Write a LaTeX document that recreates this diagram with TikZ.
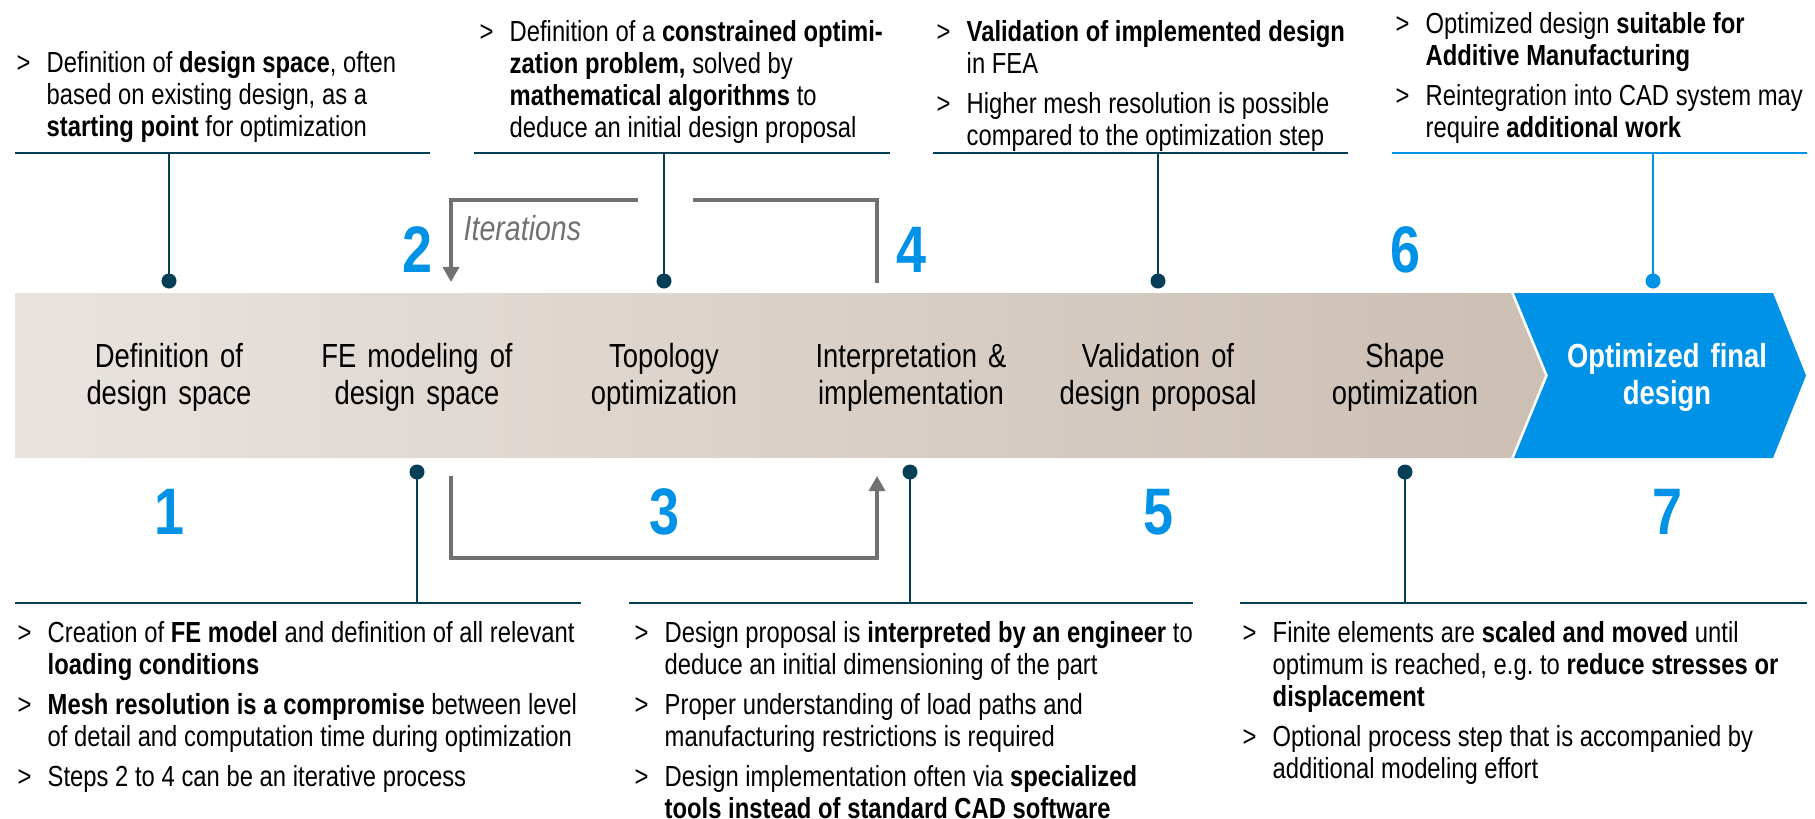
\documentclass[tikz,border=0pt]{standalone}
\usepackage{fontspec}
\setmainfont[FakeStretch=0.82]{Liberation Sans}
\usetikzlibrary{arrows.meta}
\definecolor{stepblue}{RGB}{0,146,230}
\definecolor{stemteal}{RGB}{5,62,87}
\definecolor{loopgray}{RGB}{115,112,112}
\definecolor{bandleft}{RGB}{233,227,223}
\definecolor{bandright}{RGB}{204,191,180}

\newcommand{\notefont}{\fontsize{8.25pt}{9.15pt}\selectfont\raggedright\frenchspacing\spaceskip=1.9pt plus 0.6pt minus 0.4pt\relax}
\newcommand{\bul}[1]{\par\hangindent=0.30cm\hangafter=1\noindent\makebox[0.30cm][l]{>}#1\par\vspace{2.2pt}}

\begin{document}
\begin{tikzpicture}[x=0.01cm, y=-0.01cm,
	rule/.style={draw=stemteal, line width=0.7pt},
	stem/.style={draw=stemteal, line width=0.7pt},
	dot/.style={circle, fill=stemteal, inner sep=0pt, minimum size=0.15cm},
	iter/.style={draw=loopgray, line width=0.95pt},
	iterhead/.style={iter, -{Triangle[width=0.16cm, length=0.15cm]}},
	num/.style={anchor=base, inner sep=0pt, text=stepblue, font=\fontsize{18.7pt}{20pt}\selectfont\bfseries},
	lbl/.style={anchor=base, inner sep=0pt, text width=2.9cm, align=center, font=\fontsize{9.5pt}{10.8pt}\selectfont},
	lblfinal/.style={lbl, text=white, font=\fontsize{9.5pt}{10.8pt}\selectfont\bfseries},
	note/.style={anchor=base west, inner sep=0pt, text width=6.5cm, align=left}]
	\useasboundingbox (0,0) rectangle (1815,818);

	% band
	\shade[left color=bandleft, right color=bandright]
	(15,293) -- (1511,293) -- (1545,375.5) -- (1511,458) -- (15,458) -- cycle;
	\fill[stepblue]
	(1514,293) -- (1773,293) -- (1806,375.5) -- (1773,458) -- (1514,458) -- (1548,375.5) -- cycle;

	\node[lbl] (l1) at (169,367) {Definition of\\design space};
	\node[lbl] (l2) at (417,367) {FE modeling of\\design space};
	\node[lbl] (l3) at (664,367) {Topology\\optimization};
	\node[lbl] (l4) at (911,367) {Interpretation \&\\implementation};
	\node[lbl] (l5) at (1158,367) {Validation of\\design proposal};
	\node[lbl] (l6) at (1405,367) {Shape\\optimization};
	\node[lblfinal] (l7) at (1667,367) {Optimized final\\design};

	\node[num] (n1) at (169,534) {1};
	\node[num] (n2) at (417,272) {2};
	\node[num] (n3) at (664,534) {3};
	\node[num] (n4) at (911,272) {4};
	\node[num] (n5) at (1158,534) {5};
	\node[num] (n6) at (1405,272) {6};
	\node[num] (n7) at (1667,534) {7};

	% rules
	\draw[rule] (15,153) -- (430,153);
	\draw[rule] (474,153) -- (890,153);
	\draw[rule] (933,153) -- (1348,153);
	\draw[rule, draw=stepblue] (1392,153) -- (1807,153);
	\draw[rule] (15,603) -- (581,603);
	\draw[rule] (629,603) -- (1193,603);
	\draw[rule] (1240,603) -- (1807,603);

	% stems
	\foreach \x/\n in {169/1, 664/3, 1158/5}{
		\node[dot] (d\n) at (\x,281) {};
		\coordinate (s\n) at (\x,153);
		\draw[stem] (s\n) -- (d\n.center);
	}
	\foreach \x/\n in {417/2, 910/4, 1405/6}{
		\node[dot] (d\n) at (\x,472) {};
		\coordinate (s\n) at (\x,603);
		\draw[stem] (s\n) -- (d\n.center);
	}
	\node[dot, fill=stepblue] (d7) at (1653,281) {};
	\coordinate (s7) at (1653,153);
	\draw[stem, draw=stepblue] (s7) -- (d7.center);

	% iterations
	\coordinate (ta) at (877,283);
	\coordinate (tb) at (877,200);
	\coordinate (tc) at (693,200);
	\coordinate (td) at (638,200);
	\coordinate (te) at (451,200);
	\coordinate (tf) at (451,282);
	\draw[iter] (ta) -- (tb) -- (tc);
	\draw[iterhead] (td) -- (te) -- (tf);
	\coordinate (ba) at (451,476);
	\coordinate (bb) at (451,558);
	\coordinate (bc) at (877,558);
	\coordinate (bd) at (877,476);
	\draw[iterhead] (ba) -- (bb) -- (bc) -- (bd);
	\node[anchor=base west, inner sep=0pt, text=loopgray, font=\fontsize{9.9pt}{11pt}\selectfont\itshape] (itlbl) at (463,240) {Iterations};

	% notes (y is the top line, less the line height)
	\node[note] (t1) at (16,40) {\notefont
		\bul{Definition of \textbf{design space}, often\newline based on existing design, as a\newline\textbf{starting point} for optimization}};
	\node[note] (t2) at (479,9) {\notefont
		\bul{Definition of a \textbf{constrained optimi-}\newline\textbf{zation problem,} solved by\newline\textbf{mathematical algorithms} to\newline deduce an initial design proposal}};
	\node[note] (t3) at (936,9) {\notefont
		\bul{\textbf{Validation of implemented design}\newline in FEA}
		\bul{Higher mesh resolution is possible\newline compared to the optimization step}};
	\node[note] (t4) at (1395,1) {\notefont
		\bul{Optimized design \textbf{suitable for}\newline\textbf{Additive Manufacturing}}
		\bul{Reintegration into CAD system may\newline require \textbf{additional work}}};
	\node[note] (b1) at (17,610) {\notefont
		\bul{Creation of \textbf{FE model} and definition of all relevant\newline\textbf{loading conditions}}
		\bul{\textbf{Mesh resolution is a compromise} between level\newline of detail and computation time during optimization}
		\bul{Steps 2 to 4 can be an iterative process}};
	\node[note] (b2) at (634,610) {\notefont
		\bul{Design proposal is \textbf{interpreted by an engineer} to\newline deduce an initial dimensioning of the part}
		\bul{Proper understanding of load paths and\newline manufacturing restrictions is required}
		\bul{Design implementation often via \textbf{specialized}\newline\textbf{tools instead of standard CAD software}}};
	\node[note] (b3) at (1242,610) {\notefont
		\bul{Finite elements are \textbf{scaled and moved} until\newline optimum is reached, e.g. to \textbf{reduce stresses or}\newline\textbf{displacement}}
		\bul{Optional process step that is accompanied by\newline additional modeling effort}};
\end{tikzpicture}
\end{document}
